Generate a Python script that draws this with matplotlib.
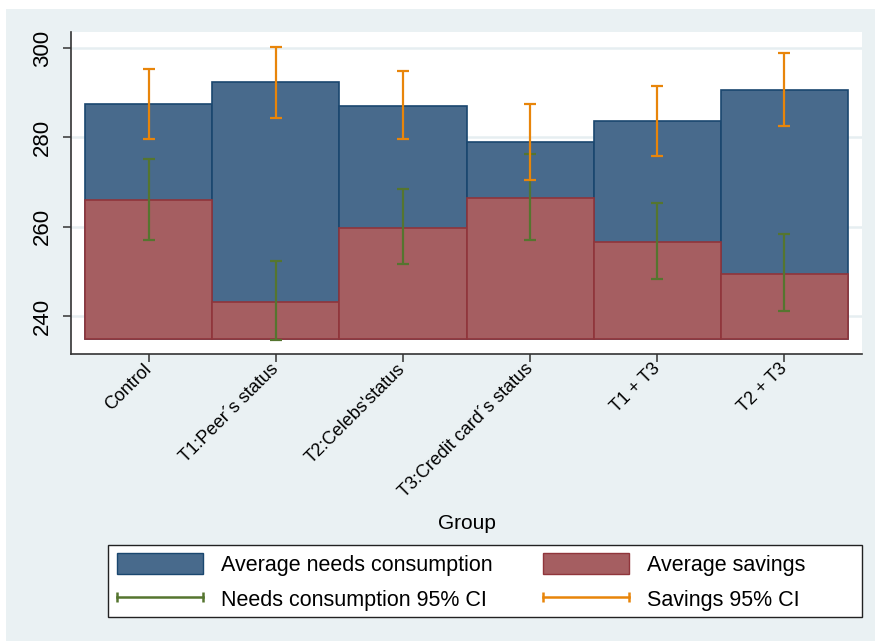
import matplotlib.pyplot as plt
from matplotlib.patches import Patch, Rectangle
from matplotlib.lines import Line2D
from matplotlib.legend_handler import HandlerLine2D
import numpy as np

plt.rcParams['font.family'] = ['Liberation Sans', 'DejaVu Sans']

groups = ["Control", "T1:Peer´s status", "T2:Celebs'status",
          "T3:Credit card´s status", "T1 + T3", "T2 + T3"]

needs = [287.5, 292.3, 287.1, 278.9, 283.6, 290.7]
savings = [265.9, 243.2, 259.8, 266.4, 256.6, 249.5]

# confidence bands as (low, high)
needs_ci_lo = [257.0, 234.6, 251.6, 257.0, 248.3, 241.2]
needs_ci_hi = [275.2, 252.4, 268.4, 276.3, 265.2, 258.3]
sav_ci_lo = [279.6, 284.3, 279.6, 270.4, 275.8, 282.5]
sav_ci_hi = [295.4, 300.3, 294.9, 287.5, 291.6, 299.0]

base = 234.8
yticks = [240, 260, 280, 300]

navy_fill = "#486a8c"
navy_edge = "#1a476f"
maroon_fill = "#a55e61"
maroon_edge = "#90353b"
green = "#55752f"
orange = "#e8850a"
bg = "#eaf1f3"

W, H = 875, 641
fig = plt.figure(figsize=(W / 100, H / 100), dpi=100)
fig.patch.set_facecolor("white")
fig.patches.append(Rectangle((6 / W, 0), 1, 1 - 9 / H, transform=fig.transFigure,
                             facecolor=bg, edgecolor="none", zorder=-10))

ax = fig.add_axes([71 / W, 1 - 354 / H, (862 - 71) / W, (354 - 32) / H])
ax.set_facecolor("white")

x = np.arange(len(groups))
ax.bar(x, np.array(needs) - base, bottom=base, width=1.0, color=navy_fill,
       edgecolor=navy_edge, linewidth=1.2, zorder=2)
ax.bar(x, np.array(savings) - base, bottom=base, width=1.0, color=maroon_fill,
       edgecolor=maroon_edge, linewidth=1.2, zorder=3)

nlo, nhi = np.array(needs_ci_lo), np.array(needs_ci_hi)
slo, shi = np.array(sav_ci_lo), np.array(sav_ci_hi)
ax.errorbar(x, (nlo + nhi) / 2, yerr=(nhi - nlo) / 2, fmt="none", ecolor=green,
            elinewidth=1.6, capsize=4, capthick=1.6, zorder=4)
ax.errorbar(x, (slo + shi) / 2, yerr=(shi - slo) / 2, fmt="none", ecolor=orange,
            elinewidth=1.6, capsize=4, capthick=1.6, zorder=5)

ax.set_xlim(-0.61, 5.61)
ax.set_ylim(231.5, 303.6)
ax.set_yticks(yticks)
ax.set_yticklabels([str(v) for v in yticks], rotation=90, va="center", fontsize=16)
ax.yaxis.grid(True, color="#e6eef1", linewidth=1.8, zorder=0)
ax.set_axisbelow(True)

ax.set_xticks(x)
ax.set_xticklabels(groups, rotation=45, ha="right", va="center",
                   rotation_mode="anchor", fontsize=13)
ax.set_xlabel("Group", fontsize=15, labelpad=9)

for s in ["top", "right"]:
    ax.spines[s].set_visible(False)
for s in ["left", "bottom"]:
    ax.spines[s].set_color("#333333")
    ax.spines[s].set_linewidth(1.2)
ax.tick_params(axis="both", length=6, width=1.1, color="#333333")
ax.tick_params(axis="y", pad=7)
ax.tick_params(axis="x", pad=3)

# legend frame, then the two columns placed inside it
fig.patches.append(Rectangle((108 / W, 1 - 617 / H), (862 - 108) / W, (617 - 545) / H,
                             transform=fig.transFigure, facecolor="white",
                             edgecolor="#222222", linewidth=1.0, zorder=-5))

ci_handler = HandlerLine2D(marker_pad=0, numpoints=2)
leg_kw = dict(loc="center left", fontsize=15.5, frameon=False, borderpad=0,
              borderaxespad=0, handlelength=4.0, handleheight=1.1,
              handletextpad=0.85, labelspacing=0.6)

col1 = [Patch(facecolor=navy_fill, edgecolor=navy_edge, linewidth=1),
        Line2D([0, 1], [0, 0], color=green, linewidth=1.8, marker="|",
               markersize=7, markeredgewidth=1.8)]
col2 = [Patch(facecolor=maroon_fill, edgecolor=maroon_edge, linewidth=1),
        Line2D([0, 1], [0, 0], color=orange, linewidth=1.8, marker="|",
               markersize=7, markeredgewidth=1.8)]

leg1 = fig.legend(col1, ["Average needs consumption", "Needs consumption 95% CI"],
                  bbox_to_anchor=(117 / W, 1 - 582 / H),
                  handler_map={Line2D: ci_handler}, **leg_kw)
leg2 = fig.legend(col2, ["Average savings", "Savings 95% CI"],
                  bbox_to_anchor=(543 / W, 1 - 582 / H),
                  handler_map={Line2D: ci_handler}, **leg_kw)

fig.savefig("out.png", dpi=100, facecolor=fig.get_facecolor())
